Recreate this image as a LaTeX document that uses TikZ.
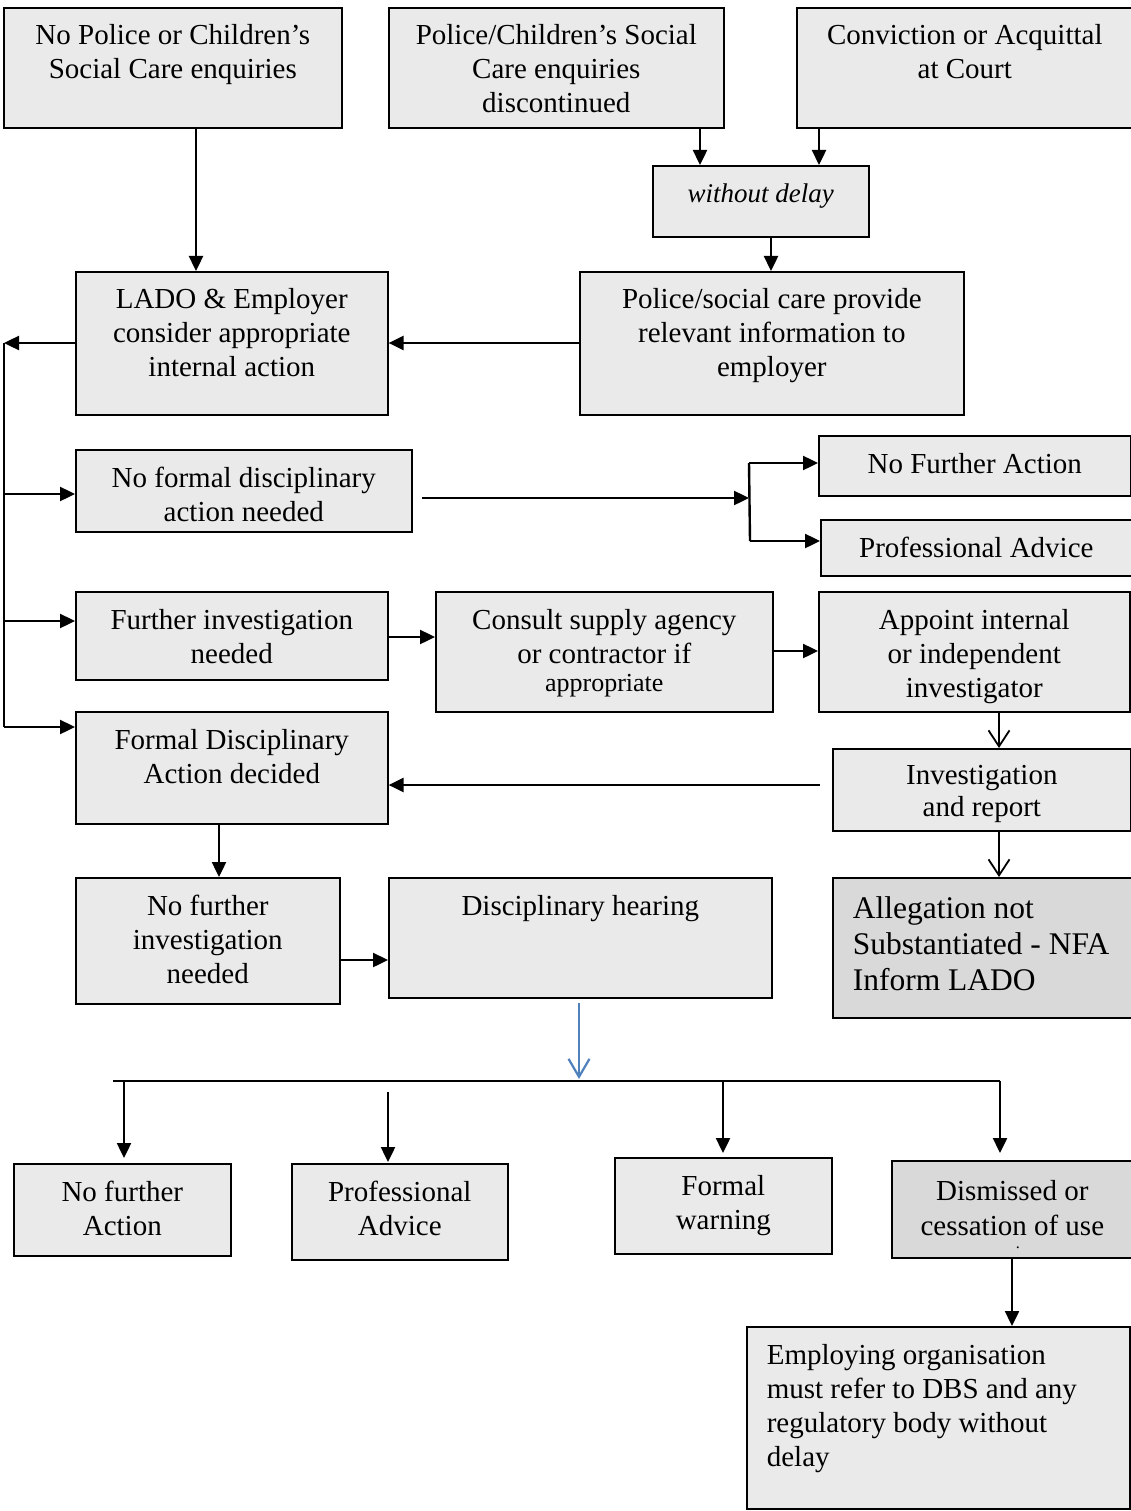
\documentclass[tikz,border=0pt]{standalone}
\usepackage{fontspec}
\setmainfont{Liberation Serif}
\usetikzlibrary{arrows.meta}
\definecolor{boxfill}{HTML}{EAEAEA}
\definecolor{boxdark}{HTML}{D9D9D9}
\definecolor{arrowblue}{HTML}{4F81BD}
\newcommand{\ctext}[4]{\begin{minipage}[t][#2pt][t]{#1pt}\vspace*{#3pt}\centering#4\end{minipage}}
\newcommand{\ltext}[5]{\begin{minipage}[t][#2pt][t]{#1pt}\vspace*{#3pt}\raggedright\leftskip=#4pt #5\end{minipage}}
\tikzset{
  box/.style={draw=black, line width=1.6pt, fill=boxfill, inner sep=0pt, anchor=north west,
    font=\fontsize{29}{34}\selectfont},
  dbox/.style={box, fill=boxdark},
  arr/.style={line width=2.4pt, -{Triangle[length=15pt,width=14pt]}},
  plainline/.style={line width=2.4pt},
  thinline/.style={line width=1.6pt},
  varr/.style={line width=1.8pt, -{Straight Barb[length=16pt,width=21pt,line width=1.8pt]}},
  barr/.style={line width=2.4pt, draw=arrowblue, -{Straight Barb[length=18pt,width=21pt,line width=2.2pt]}},
}
\begin{document}
\begin{tikzpicture}[x=1pt,y=-1pt]
\useasboundingbox (0,0) rectangle (1131,1511);
% top row
\node[box] (b1) at (3,7) {\ctext{338}{120}{13.2}{\strut No Police or Children’s\\Social Care enquiries}};
\node[box] (b2) at (388,7) {\ctext{335}{120}{13.2}{\strut Police/Children’s Social\\Care enquiries\\discontinued}};
\node[box] (b3) at (796,7) {\ctext{336}{120}{13.2}{\strut Conviction or Acquittal\\at Court}};
\node[box] (wd) at (652,165) {\ctext{216}{71}{13.2}{\strut\fontsize{27}{34}\selectfont\itshape without delay}};
\node[box] (lado) at (75,271) {\ctext{312}{143}{13.2}{\strut LADO \& Employer\\consider appropriate\\internal action}};
\node[box] (pol) at (579,271) {\ctext{384}{143}{13.2}{\strut Police/social care provide\\relevant information to\\employer}};
% middle
\node[box] (nfd) at (75,449) {\ctext{336}{82}{13.5}{\strut No formal disciplinary\\action needed}};
\node[box] (nfa) at (818,435) {\ctext{312}{60}{13.5}{\strut No Further Action}};
\node[box] (pa1) at (820,519) {\ctext{311}{56}{13.5}{\strut Professional Advice}};
\node[box] (fin) at (75,591) {\ctext{312}{88}{13.5}{\strut Further investigation\\needed}};
\node[box] (csa) at (435,591) {\ctext{337}{120}{13.5}{\strut Consult supply agency\\or contractor if\\\fontsize{26}{28}\selectfont appropriate}};
\node[box] (app) at (818,591) {\ctext{311}{120}{13.5}{\strut Appoint internal\\or independent\\investigator}};
\node[box] (fda) at (75,711) {\ctext{312}{112}{13.5}{\strut Formal Disciplinary\\Action decided}};
\node[box] (inv) at (832,748) {\ctext{298}{82}{13.2}{\fontsize{29}{32}\selectfont\strut Investigation\\and report}};
\node[box] (nfi) at (75,877) {\ctext{264}{126}{13.5}{\strut No further\\investigation\\needed}};
\node[box] (dh) at (388,877) {\ctext{383}{120}{13.5}{\strut Disciplinary hearing}};
\node[dbox] (ans) at (832,877) {\ltext{305}{140}{15.8}{20}{\fontsize{31.5}{36}\selectfont\strut Allegation not\\Substantiated - NFA\\Inform LADO}};
% bottom
\node[box] (nfa2) at (13,1163) {\ctext{217}{92}{13.5}{\strut No further\\Action}};
\node[box] (pa2) at (291,1163) {\ctext{216}{96}{13.5}{\strut Professional\\Advice}};
\node[box] (fw) at (614,1157) {\ctext{217}{96}{14}{\strut Formal\\warning}};
\node[dbox] (dis) at (891,1160) {\ctext{241}{97}{15}{\fontsize{29}{35}\selectfont\strut Dismissed or\\cessation of use\\\fontsize{16}{13}\selectfont\hspace*{11pt}.}};
\node[box] (emp) at (746,1326) {\ltext{383}{182}{13.5}{20}{\strut Employing organisation\\must refer to DBS and any\\regulatory body without\\delay}};
% connectors top
\draw[arr] (196,0 |- b1.south) -- (196,0 |- lado.north);
\draw[arr] (700,0 |- b2.south) -- (700,0 |- wd.north);
\draw[arr] (819,0 |- b3.south) -- (819,0 |- wd.north);
\draw[arr] (771,0 |- wd.south) -- (771,0 |- pol.north);
\draw[arr] (pol.west |- 0,343) -- (lado.east |- 0,343);
% left spine
\coordinate (sp1) at (4,343);
\coordinate (sp2) at (4,494);
\coordinate (sp3) at (4,621);
\coordinate (sp4) at (4,727);
\draw[arr] (lado.west |- sp1) -- (sp1);
\draw[plainline] (sp1) -- (sp4);
\draw[arr] (sp2) -- (nfd.west |- sp2);
\draw[arr] (sp3) -- (fin.west |- sp3);
\draw[arr] (sp4) -- (fda.west |- sp4);
% bracket to NFA / PA
\coordinate (nfdout) at (422,498);
\coordinate (brm) at (749,498);
\coordinate (br1) at (749,463);
\coordinate (br2) at (750,541);
\draw[arr] (nfdout) -- (brm);
\draw[plainline] (br1) -- (br2);
\draw[arr] (br1) -- (nfa.west |- br1);
\draw[arr] (br2) -- (pa1.west |- br2);
% investigation chain
\draw[arr] (fin.east |- 0,637) -- (csa.west |- 0,637);
\draw[arr] (csa.east |- 0,651) -- (app.west |- 0,651);
\draw[varr] (999,0 |- app.south) -- (999,0 |- inv.north);
\coordinate (invout) at (820,785);
\draw[arr] (invout) -- (fda.east |- invout);
\draw[varr] (999,0 |- inv.south) -- (999,0 |- ans.north);
\draw[arr] (219,0 |- fda.south) -- (219,0 |- nfi.north);
\draw[arr] (nfi.east |- 0,960) -- (dh.west |- 0,960);
% hearing outcomes
\coordinate (dhout) at (579,1003);
\coordinate (dhin) at (579,1079);
\draw[barr] (dhout) -- (dhin);
\coordinate (hl) at (113,1081);
\coordinate (hr) at (1000,1081);
\draw[thinline] (hl) -- (hr);
\draw[arr, shorten >=5pt] (124,1081) -- (124,0 |- nfa2.north);
\draw[arr, shorten >=1pt] (388,1092) -- (388,0 |- pa2.north);
\draw[arr, shorten >=4pt] (723,1081) -- (723,0 |- fw.north);
\draw[arr, shorten >=7pt] (hr) -- (hr |- dis.north);
\draw[arr] (1012,0 |- dis.south) -- (1012,0 |- emp.north);
\end{tikzpicture}
\end{document}
